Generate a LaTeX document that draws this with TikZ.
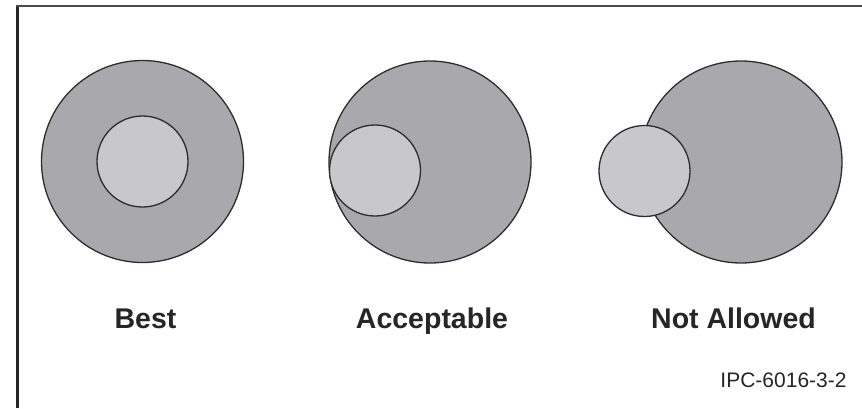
\documentclass[tikz,border=0pt]{standalone}
\usepackage{fontspec}
\setmainfont{Liberation Sans}
\definecolor{bigfill}{RGB}{169,169,173}
\definecolor{smallfill}{RGB}{200,200,204}
\definecolor{edge}{RGB}{45,45,45}
\begin{document}
\begin{tikzpicture}[x=1pt,y=-1pt,
  big/.style={circle,draw=edge,line width=1.3pt,fill=bigfill,minimum size=202pt,inner sep=0pt},
  small/.style={circle,draw=edge,line width=1.3pt,fill=smallfill,minimum size=91pt,inner sep=0pt},
  lbl/.style={font=\fontsize{28.5}{28.5}\selectfont\bfseries,anchor=base,text=black!85},
  fig/.style={font=\fontsize{21}{21}\selectfont,anchor=base,text=black!85}]
\useasboundingbox (0,0) rectangle (862,408);
\fill[white] (0,0) rectangle (862,408);
\draw[line width=3pt,black!85] (17,408) -- (17,6);
\draw[line width=2.4pt,black!70] (15.5,6) -- (862,6);
% Best
\node[big] (b1) at (142.5,161.5) {};
\node[small] (s1) at (142.5,161.5) {};
% Acceptable
\node[big] (b2) at (430,162) {};
\node[small] (s2) at (375,170.5) {};
% Not allowed
\node[big] (b3) at (741,162) {};
\node[small] (s3) at (644.5,171) {};
\node[lbl] (t1) at (145.5,328) {Best};
\node[lbl] (t2) at (432,328) {Acceptable};
\node[lbl] (t3) at (733.5,328) {Not Allowed};
\node[fig] (t4) at (783.5,387) {IPC-6016-3-2};
\end{tikzpicture}
\end{document}
